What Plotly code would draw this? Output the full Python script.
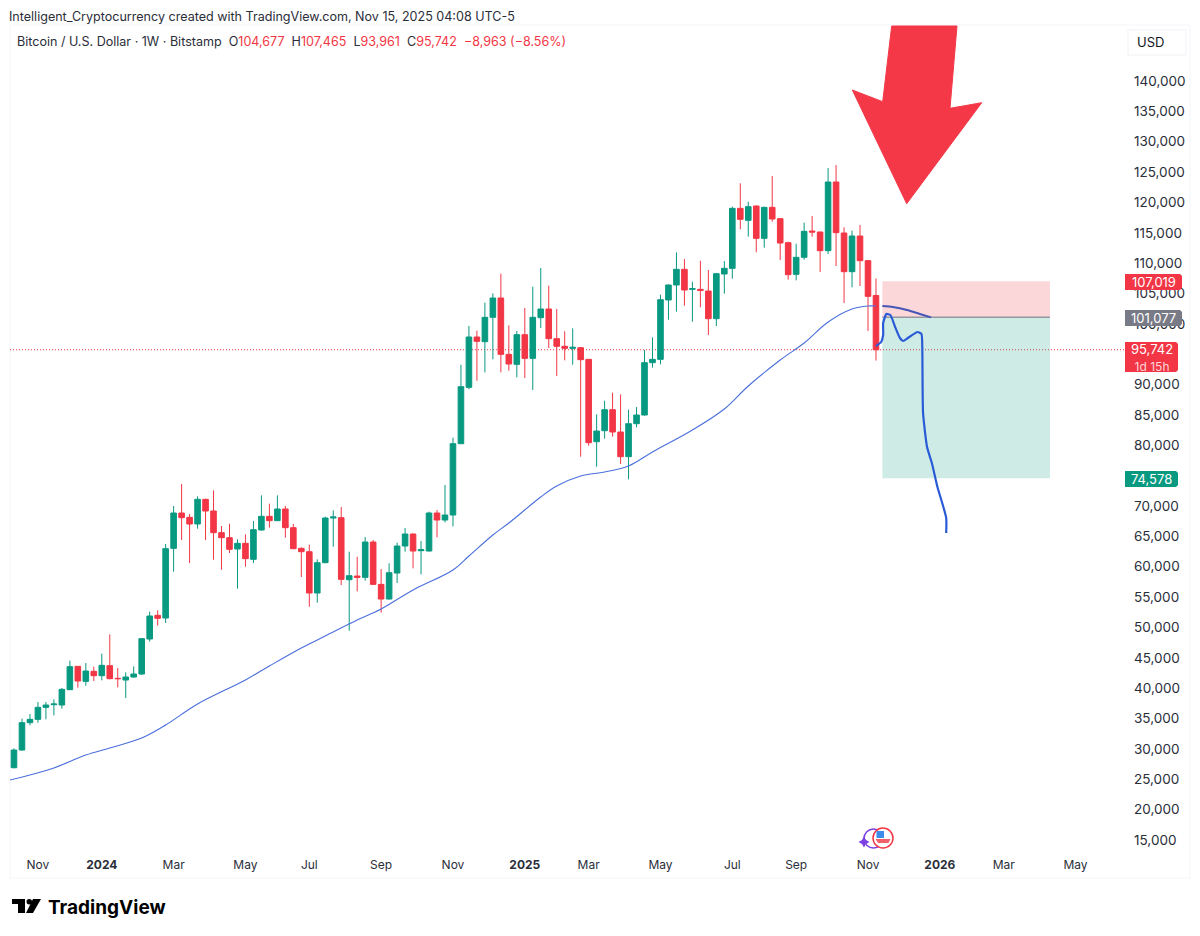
import pandas as pd
import plotly.graph_objects as go

# Weekly BTC/USD candles
start_date = "2023-10-16"

opens = [26909, 29819, 34321, 34870, 36846, 37285, 37230, 39756, 43599, 41128, 42775, 42062, 43709,
         41622, 41348, 41842, 42336, 48101, 51999, 51559, 63033, 68853, 68139, 67041, 71104, 69182,
         65614, 64790, 62924, 63857, 61222, 66053, 68304, 67590, 69512, 66437, 63031, 62482, 55675,
         60671, 68027, 68082, 57871, 58475, 58255, 64075, 57102, 54687, 58969, 63416, 65392, 62647,
         62592, 68851, 67698, 68521, 80270, 89548, 97838, 97069, 101077, 104261, 94983, 93336, 98222,
         94324, 101022, 102450, 97564, 96301, 95971, 96081, 94159, 80598, 82410, 85869, 82191, 78128,
         83563, 84990, 93610, 94159, 103931, 106401, 108982, 105688, 105688, 105413, 100857, 108213,
         109146, 119028, 117052, 119413, 114087, 119193, 117327, 113374, 108158, 110958, 115295,
         115131, 112056, 123366, 114966, 108597, 114472, 110409, 104677]
highs = [30093, 34980, 35748, 37725, 37725, 38164, 40030, 44532, 43650, 44148, 43544, 45685, 48869,
         43324, 42611, 43599, 48265, 52602, 52822, 63747, 70006, 73629, 68688, 71598, 71200, 72586,
         66712, 67096, 64516, 65339, 67535, 71763, 70390, 71763, 70006, 67041, 63196, 63635, 61220,
         68247, 69290, 69839, 62482, 61659, 64898, 64404, 59628, 60561, 63965, 66380, 65502, 64239,
         69070, 69345, 73462, 81258, 93281, 99650, 98881, 103493, 105030, 108269, 99760, 98826, 102614,
         106128, 109202, 106293, 102450, 98771, 99265, 96200, 94200, 85100, 87351, 88669, 88394, 85869,
         86308, 95696, 97782, 104809, 106500, 111782, 110684, 106950, 110409, 108872, 108400, 110354,
         119303, 123146, 120126, 119500, 119300, 124354, 117436, 113538, 113209, 116668, 117766,
         115200, 125671, 126165, 115899, 115350, 116283, 110519, 107465]
lows = [26800, 29700, 33882, 34321, 34870, 35529, 36627, 39700, 40085, 40415, 41183, 41293, 41458,
        40140, 38383, 41732, 42171, 47661, 50297, 50736, 59190, 64406, 60618, 66273, 64406, 61167,
        59520, 62265, 56391, 60014, 60618, 65943, 66437, 67535, 64790, 62900, 58310, 53424, 54083,
        60600, 63306, 56992, 49471, 55949, 57706, 57000, 52436, 54600, 57322, 62482, 59737, 58749,
        62500, 64843, 67314, 66655, 80200, 89219, 90646, 92019, 94160, 92019, 92293, 91195, 91085,
        89109, 99320, 96026, 91415, 93995, 93281, 78129, 79940, 76481, 81093, 81422, 76920, 74395,
        82959, 84900, 92786, 93335, 100692, 102009, 102998, 100362, 102723, 98166, 99649, 104974,
        107445, 115570, 114362, 111782, 112550, 116832, 110519, 107280, 107170, 110574, 114362,
        108543, 111507, 109531, 103437, 106017, 106237, 98825, 93961]
closes = [29819, 34321, 34870, 36846, 37230, 37395, 39811, 43544, 41183, 42830, 42062, 43764, 41568,
          41568, 41842, 42336, 48156, 51889, 51504, 62979, 68853, 68084, 67041, 71104, 69182, 65614,
          64790, 62869, 63857, 61332, 66108, 68304, 67590, 69512, 66437, 62979, 62482, 55675, 60671,
          68027, 68192, 57926, 58530, 58255, 64075, 57102, 54687, 59024, 63416, 65392, 62592, 62812,
          68851, 67698, 68521, 80270, 89658, 97838, 97124, 101077, 104261, 94983, 93391, 98222, 94324,
          101077, 102450, 97564, 96301, 95971, 96136, 94105, 80434, 82355, 85869, 82191, 78128, 83563,
          84990, 93610, 94159, 103986, 106401, 108982, 105578, 105798, 105523, 100857, 108268, 109146,
          119028, 117217, 119303, 114087, 119193, 117272, 113319, 108103, 110958, 115240, 115131,
          112056, 123366, 115021, 108597, 114472, 110409, 104535, 95742]

# Moving average, read at these week numbers
ma_weeks = [-1, 2, 5, 9, 12, 16, 19, 23, 29, 32, 36, 39, 43, 46, 50, 55, 57, 60, 62, 66, 68, 71, 74,
            77, 80, 85, 89, 92, 96, 99, 102, 105, 107, 108]
ma_values = [24717, 25705, 26858, 28999, 30152, 31799, 33940, 37398, 41351, 43656, 46621, 48597,
             51232, 53044, 56173, 59467, 61772, 65231, 67208, 71489, 73301, 74947, 75606, 76594,
             78900, 82523, 85982, 89770, 94051, 96851, 100310, 102451, 102945, 102945]

# Drawn by hand on the chart
arc_weeks = [108.8, 110.1, 111.9, 113.5, 114.9]
arc_values = [102945, 102780, 102286, 101627, 101077]
path_weeks = [108.0, 108.65, 108.9, 108.9, 109.3, 109.8, 110.4, 111.0, 111.4, 112.0, 113.2, 113.7,
              113.8, 113.9, 114.4, 115.0, 115.7, 116.3, 116.8, 116.8]
path_values = [96357, 97016, 98169, 100145, 101627, 101463, 99486, 97675, 97181, 97675, 98663, 98333,
               96192, 85323, 79723, 77088, 73136, 70501, 68030, 65560]

# Long position tool
stop_price = 107019
entry_price = 101077
target_price = 74578
last_price = 95742
position_weeks = [108.8, 129.8]

# 75,000 and 95,000 are covered by the price flags in the original
price_ticks = [15000, 20000, 25000, 30000, 35000, 40000, 45000, 50000, 55000, 60000, 65000, 70000,
               80000, 85000, 90000, 100000, 105000, 110000, 115000, 120000, 125000,
               130000, 135000, 140000]
date_ticks = ["2023-11-06", "2024-01-01", "2024-03-04", "2024-05-06", "2024-07-01", "2024-09-02",
              "2024-11-04", "2025-01-06", "2025-03-03", "2025-05-05", "2025-07-07", "2025-09-01",
              "2025-11-03", "2026-01-05", "2026-03-02", "2026-05-04"]
date_labels = ["Nov", "<b>2024</b>", "Mar", "May", "Jul", "Sep", "Nov", "<b>2025</b>", "Mar", "May",
               "Jul", "Sep", "Nov", "<b>2026</b>", "Mar", "May"]

UP = "#089981"
DOWN = "#f23645"
INK = "#131722"
W, H = 1200, 936
FONT = "Inter"


def week_date(w):
    return pd.Timestamp(start_date) + pd.to_timedelta(w * 7, unit="D")


def px(x):
    return x / W


def py(y):
    return 1 - y / H


def poly(points):
    path = "M " + " L ".join(f"{px(x):.5f},{py(y):.5f}" for x, y in points) + " Z"
    return dict(type="path", xref="paper", yref="paper", path=path, line=dict(width=0), layer="above")


def note(x, y, text, size, color, anchor="left"):
    fig.add_annotation(x=px(x), y=py(y), xref="paper", yref="paper", text=text, showarrow=False,
                       xanchor=anchor, yanchor="middle", align="center",
                       font=dict(family=FONT, size=size, color=color))


def label_box(x0, y0, x1, y1, color, text, size=13):
    # rounded flag sitting on the price scale, drawn as a plain polygon
    c = 2
    pts = [(x0, y0), (x1 - c, y0), (x1, y0 + c), (x1, y1 - c), (x1 - c, y1), (x0, y1)]
    shape = poly(pts)
    shape["fillcolor"] = color
    fig.add_shape(**shape)
    note((x0 + x1) / 2, (y0 + y1) / 2, text, size, "white", "center")


dates = pd.date_range(start_date, periods=len(opens), freq="W-MON")

fig = go.Figure()

# Frame behind the chart
fig.add_shape(type="rect", xref="paper", yref="paper", x0=px(10), x1=px(1190), y0=py(25), y1=py(878),
              line=dict(color="#f4f5f8", width=1), fillcolor="white", layer="below")

# Risk and reward zones
fig.add_shape(type="rect", x0=week_date(position_weeks[0]), x1=week_date(position_weeks[1]),
              y0=entry_price, y1=stop_price, fillcolor="rgba(242,54,69,0.2)", line=dict(width=0), layer="below")
fig.add_shape(type="rect", x0=week_date(position_weeks[0]), x1=week_date(position_weeks[1]),
              y0=target_price, y1=entry_price, fillcolor="rgba(8,153,129,0.2)", line=dict(width=0), layer="below")
fig.add_shape(type="line", x0=week_date(position_weeks[0]), x1=week_date(position_weeks[1]),
              y0=entry_price, y1=entry_price, line=dict(color="#9598a1", width=1.5), layer="below")

# Last price line
fig.add_shape(type="line", xref="x domain", x0=0, x1=1, y0=last_price, y1=last_price,
              line=dict(color=DOWN, width=1, dash="1px,2px"), layer="below")

fig.add_trace(go.Candlestick(
    x=dates, open=opens, high=highs, low=lows, close=closes,
    increasing=dict(line=dict(color=UP, width=1), fillcolor=UP),
    decreasing=dict(line=dict(color=DOWN, width=1), fillcolor=DOWN),
    whiskerwidth=0,
))
fig.add_trace(go.Scatter(x=[week_date(w) for w in ma_weeks], y=ma_values, mode="lines",
                         line=dict(color="#4a6fdc", width=1.1, shape="spline", smoothing=1)))
fig.add_trace(go.Scatter(x=[week_date(w) for w in arc_weeks], y=arc_values, mode="lines",
                         line=dict(color="#4356b8", width=2, shape="spline", smoothing=0.6)))
fig.add_trace(go.Scatter(x=[week_date(w) for w in path_weeks], y=path_values, mode="lines",
                         line=dict(color="#2a5bd7", width=2.2, shape="spline", smoothing=0.5)))

# Big arrow
arrow = poly([(891.7, 26), (957, 26), (950, 108.3), (981.7, 102.7), (906.7, 203.7), (852.3, 90), (882.7, 101.7)])
arrow["fillcolor"] = "#f43848"
arrow["line"] = dict(color="#f43848", width=1)
fig.add_shape(**arrow)

# Price scale flags
label_box(1125, 274, 1182, 290, "#f23645", "107,019")
label_box(1125, 310, 1182, 326, "#787b86", "101,077")
label_box(1125, 342, 1178, 372, "#f23645",
          "95,742<br><span style=\"font-size:12px;color:#fbd5d8\">1d 15h</span>")
label_box(1125, 471, 1178, 487, "#089981", "74,578")

# USD button
fig.add_shape(type="rect", xref="paper", yref="paper", x0=px(1128), x1=px(1186), y0=py(30), y1=py(55),
              line=dict(color="#f0f1f4", width=1), fillcolor="white", layer="above")
note(1135, 42.5, "USD", 13, INK)

# Header lines
note(7, 16, "Intelligent_Cryptocurrency created with TradingView.com, Nov 15, 2025 04:08 UTC-5", 12.55, "#2a2e39")
red = "<span style=\"color:#f23645\">%s</span>"
note(15, 42, "Bitcoin / U.S. Dollar · 1W · Bitstamp  O" + red % "104,677" + "  H" + red % "107,465"
     + "  L" + red % "93,961" + "  C" + red % "95,742" + "  " + red % "−8,963 (−8.56%)", 12.55, "#2a2e39")

# Small flag icon near the time scale
fig.add_shape(type="circle", xref="paper", yref="paper", x0=px(864), x1=px(883), y0=py(829), y1=py(848),
              line=dict(color="#7b3fe4", width=1.5), fillcolor="white", layer="above")
diamond = poly([(864, 836.5), (866, 840), (869.5, 842), (866, 844), (864, 847.5), (862, 844), (858.5, 842), (862, 840)])
diamond["fillcolor"] = "#7b3fe4"
fig.add_shape(**diamond)
fig.add_shape(type="circle", xref="paper", yref="paper", x0=px(873), x1=px(893), y0=py(828), y1=py(848),
              line=dict(color="#f23645", width=1.5), fillcolor="white", layer="above")
flag = poly([(876.5, 831), (884, 831), (884, 838), (876.5, 838)])
flag["fillcolor"] = "#3c8dea"
fig.add_shape(**flag)
stripe = poly([(875.5, 839), (890.5, 839), (888.5, 843), (878, 843)])
stripe["fillcolor"] = "#f2606c"
fig.add_shape(**stripe)

# TradingView logo
for pts in ([(12, 899), (25, 899), (25, 913), (18, 913), (18, 904), (12, 904)],
            [(33, 899), (41, 899), (33, 913), (26, 913)]):
    part = poly(pts)
    part["fillcolor"] = "#000000"
    fig.add_shape(**part)
fig.add_shape(type="circle", xref="paper", yref="paper", x0=px(26.5), x1=px(32), y0=py(899), y1=py(904.5),
              fillcolor="#000000", line=dict(width=0), layer="above")
note(46, 907, "<b>TradingView</b>", 19, "#000000")

fig.update_layout(
    width=W, height=H,
    margin=dict(l=0, r=0, t=0, b=0),
    paper_bgcolor="white", plot_bgcolor="white",
    showlegend=False,
    boxgap=0.3, boxgroupgap=0,
    hovermode=False,
    xaxis=dict(domain=[px(10), px(1125)], range=[week_date(-0.5), week_date(139.2)], type="date",
               rangeslider=dict(visible=False), showgrid=False, zeroline=False, showline=False,
               tickmode="array", tickvals=date_ticks, ticktext=date_labels, ticks="",
               ticklabelstandoff=4, tickfont=dict(family=FONT, size=12, color="#2a2e39")),
    yaxis=dict(domain=[py(852), py(25)], range=[13024, 149223], side="right", showgrid=False, zeroline=False,
               showline=False, tickmode="array", tickvals=price_ticks, tickformat=",d", ticks="",
               ticklabelstandoff=8, tickfont=dict(family=FONT, size=13.5, color="#2a2e39")),
)

fig.write_html("out.html", config=dict(displayModeBar=False), post_script="document.body.style.margin='0';")
